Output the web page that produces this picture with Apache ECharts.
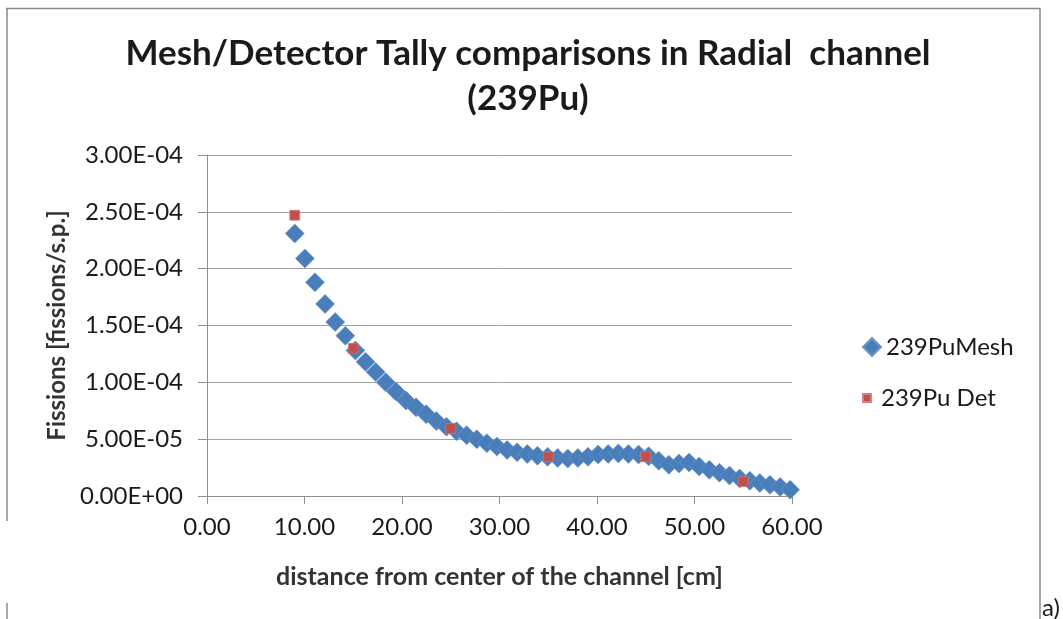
<!DOCTYPE html>
<html>
<head>
<meta charset="utf-8">
<script src="https://cdn.jsdelivr.net/npm/echarts@6/dist/echarts.min.js"></script>
<style>
  html, body { margin: 0; padding: 0; background: #ffffff; }
  #chart { width: 1063px; height: 619px; }
</style>
</head>
<body>
<div id="chart"></div>
<script>
// Radial channel: distance from channel centre [cm]
const meshX = [
  9.00, 10.04, 11.07, 12.11, 13.15, 14.19, 15.22, 16.26, 17.30, 18.33,
  19.37, 20.41, 21.44, 22.48, 23.52, 24.56, 25.59, 26.63, 27.67, 28.70,
  29.74, 30.78, 31.81, 32.85, 33.89, 34.93, 35.96, 37.00, 38.04, 39.07,
  40.11, 41.15, 42.19, 43.22, 44.26, 45.30, 46.33, 47.37, 48.41, 49.44,
  50.48, 51.52, 52.56, 53.59, 54.63, 55.67, 56.70, 57.74, 58.78, 59.81
];
// Mesh tally, fissions per source particle
const meshY = [
  2.31e-4, 2.09e-4, 1.88e-4, 1.69e-4, 1.53e-4, 1.41e-4, 1.28e-4, 1.18e-4, 1.09e-4, 1.00e-4,
  9.2e-5, 8.4e-5, 7.8e-5, 7.2e-5, 6.6e-5, 6.1e-5, 5.7e-5, 5.35e-5, 5.0e-5, 4.65e-5,
  4.35e-5, 4.05e-5, 3.85e-5, 3.7e-5, 3.55e-5, 3.45e-5, 3.35e-5, 3.3e-5, 3.35e-5, 3.45e-5,
  3.65e-5, 3.7e-5, 3.75e-5, 3.7e-5, 3.65e-5, 3.5e-5, 3.1e-5, 2.75e-5, 2.85e-5, 2.95e-5,
  2.6e-5, 2.3e-5, 2.05e-5, 1.8e-5, 1.55e-5, 1.35e-5, 1.15e-5, 9.8e-6, 8.0e-6, 5.5e-6
];
// Point detector tallies
const detX = [9, 15, 25, 35, 45, 55];
const detY = [2.47e-4, 1.30e-4, 5.95e-5, 3.45e-5, 3.45e-5, 1.26e-5];

const yTickLabels = ['0.00E+00', '5.00E-05', '1.00E-04', '1.50E-04', '2.00E-04', '2.50E-04', '3.00E-04'];
const xTickLabels = ['0.00', '10.00', '20.00', '30.00', '40.00', '50.00', '60.00'];

const meshName = '239PuMesh';
const detName = '239Pu Det';

const FONT = 'Lato';
const axisGray = '#8e8e8e';
const gridGray = '#a3a3a3';

const chart = echarts.init(document.getElementById('chart'), null, { renderer: 'canvas' });

const option = {
  backgroundColor: '#ffffff',
  animation: false,
  title: {
    text: 'Mesh/Detector Tally comparisons in Radial  channel\n(239Pu)',
    left: 523,
    textAlign: 'center',
    top: 26,
    textStyle: {
      fontFamily: FONT,
      fontSize: 35,
      fontWeight: 'bold',
      color: '#1a1a1a',
      lineHeight: 45
    }
  },
  legend: [
    {
      data: [{ name: meshName, icon: 'diamond' }],
      left: 862,
      top: 335,
      padding: 0,
      itemWidth: 18,
      itemHeight: 18,
      textStyle: { fontFamily: FONT, fontSize: 24, color: '#1a1a1a' }
    },
    {
      data: [{ name: detName, icon: 'path://M0,0L10,0L10,10L0,10Z' }],
      left: 862,
      top: 386,
      padding: 0,
      itemWidth: 18,
      itemHeight: 8,
      symbolKeepAspect: true,
      textStyle: { fontFamily: FONT, fontSize: 24, color: '#1a1a1a' }
    }
  ],
  grid: {
    left: 207,
    top: 155,
    width: 585,
    height: 341,
    containLabel: false
  },
  xAxis: {
    type: 'value',
    min: 0,
    max: 60,
    interval: 10,
    name: 'distance from center of the channel [cm]',
    nameLocation: 'middle',
    nameGap: 68,
    nameTextStyle: { fontFamily: FONT, fontSize: 25, fontWeight: 'bold', color: '#333333' },
    axisLine: { show: true, lineStyle: { color: axisGray, width: 1 } },
    axisTick: { show: true, inside: false, length: 8, lineStyle: { color: axisGray } },
    splitLine: { show: false },
    axisLabel: {
      margin: 19,
      fontFamily: FONT,
      fontSize: 24,
      color: '#1a1a1a',
      formatter: function (v) { return xTickLabels[Math.round(v / 10)]; }
    }
  },
  yAxis: {
    type: 'value',
    min: 0,
    max: 3e-4,
    interval: 5e-5,
    name: 'Fissions [fissions/s.p.]',
    nameLocation: 'middle',
    nameGap: 136,
    nameRotate: 90,
    nameTextStyle: { fontFamily: FONT, fontSize: 24, fontWeight: 'bold', color: '#333333' },
    axisLine: { show: true, lineStyle: { color: axisGray, width: 1 } },
    axisTick: { show: true, inside: false, length: 9, lineStyle: { color: axisGray } },
    splitLine: { show: true, lineStyle: { color: gridGray, width: 1 } },
    axisLabel: {
      margin: 24,
      fontFamily: FONT,
      fontSize: 24,
      color: '#1a1a1a',
      formatter: function (v) { return yTickLabels[Math.round(v / 5e-5)]; }
    }
  },
  series: [
    {
      name: meshName,
      type: 'scatter',
      symbol: 'diamond',
      symbolSize: 19,
      itemStyle: { color: '#4a7ebb', borderColor: '#6b97cc', borderWidth: 0.6, opacity: 1 },
      data: meshX.map(function (x, i) { return [x, meshY[i]]; }),
      z: 2
    },
    {
      name: detName,
      type: 'scatter',
      symbol: 'rect',
      symbolSize: 10,
      itemStyle: { color: '#c0504d', borderColor: '#d8807e', borderWidth: 0.6, opacity: 1 },
      data: detX.map(function (x, i) { return [x, detY[i]]; }),
      z: 3
    }
  ],
  graphic: [
    // chart frame
    { type: 'line', shape: { x1: 6, y1: 8.5, x2: 1040, y2: 8.5 }, style: { stroke: '#8a8a8a', lineWidth: 1.5 } },
    { type: 'line', shape: { x1: 7, y1: 8, x2: 7, y2: 521 }, style: { stroke: '#8a8a8a', lineWidth: 1.5 } },
    { type: 'line', shape: { x1: 7, y1: 603, x2: 7, y2: 619 }, style: { stroke: '#8a8a8a', lineWidth: 1.5 } },
    { type: 'line', shape: { x1: 1040, y1: 8, x2: 1040, y2: 619 }, style: { stroke: '#8a8a8a', lineWidth: 1.5 } },
    {
      type: 'text',
      left: 1042,
      top: 596,
      style: { text: 'a)', fontFamily: FONT, fontSize: 24, fill: '#1a1a1a' }
    }
  ]
};

chart.setOption(option);
</script>
</body>
</html>
